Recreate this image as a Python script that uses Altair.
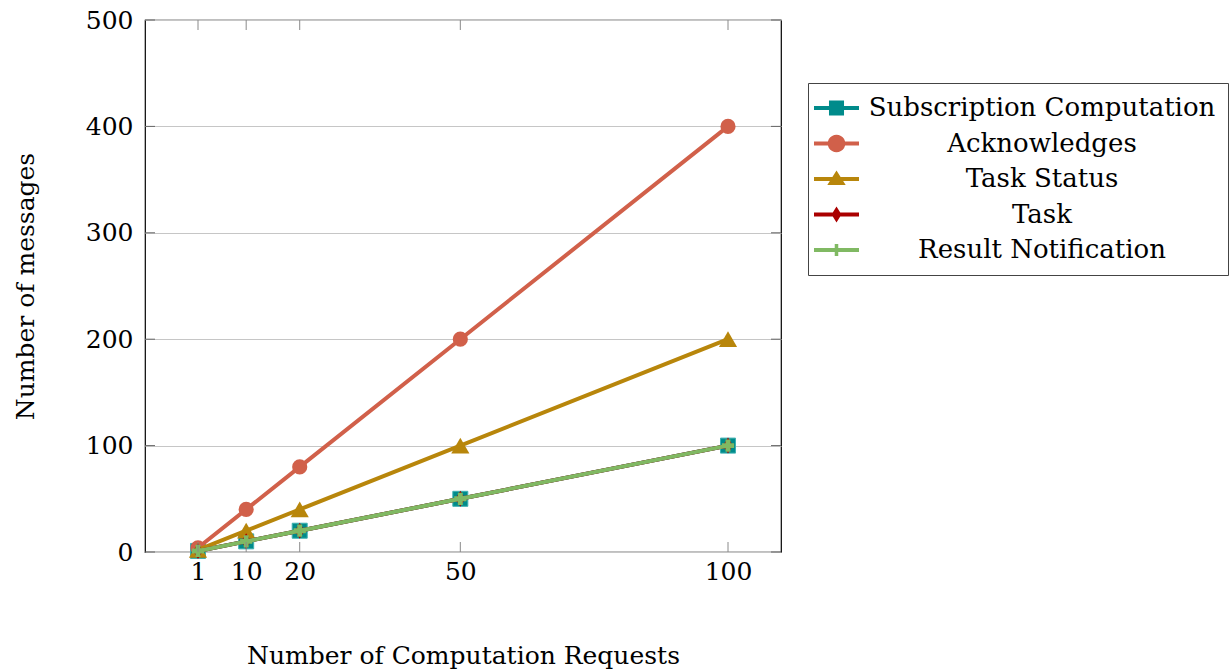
import math
import altair as alt
import pandas as pd

# Message counts per number of computation requests
requests = [1, 10, 20, 50, 100]
series_names = [
    "Subscription Computation",
    "Acknowledges",
    "Task Status",
    "Task",
    "Result Notification",
]
subscription = [1, 10, 20, 50, 100]
acknowledges = [4, 40, 80, 200, 400]
task_status = [2, 20, 40, 100, 200]
task = [1, 10, 20, 50, 100]
result_notification = [1, 10, 20, 50, 100]

colors = ["#008b8b", "#d1604a", "#b8860b", "#aa0000", "#80b963"]
y_ticks = [0, 100, 200, 300, 400, 500]

values = [subscription, acknowledges, task_status, task, result_notification]
rows = []
for name, ys in zip(series_names, values):
    for x, y in zip(requests, ys):
        rows.append({"series": name, "x": x, "y": y})
df = pd.DataFrame(rows)

W, H = 636, 532
FONT = "DejaVu Serif"
FS = 25
LEGEND_FS = 26


def poly(points):
    return "M" + "L".join(f"{x:.3f},{y:.3f}" for x, y in points) + "Z"


def circle_path(cx, cy, r, n=24):
    return poly([(cx + r * math.cos(2 * math.pi * k / n), cy + r * math.sin(2 * math.pi * k / n)) for k in range(n)])


# legend glyphs: a line segment with the marker in its middle (units of 8 px)
L0, L1, LC = -2.375, 3.25, 0.4375
line_seg = poly([(L0, -0.25), (L1, -0.25), (L1, 0.25), (L0, 0.25)])
legend_shapes = [
    line_seg + poly([(LC - 0.94, -0.94), (LC + 0.94, -0.94), (LC + 0.94, 0.94), (LC - 0.94, 0.94)]),
    line_seg + circle_path(LC, 0, 1.1),
    line_seg + poly([(LC, -1.05), (LC + 1.15, 0.75), (LC - 1.15, 0.75)]),
    line_seg + poly([(LC, -1.0), (LC + 0.62, 0), (LC, 1.0), (LC - 0.62, 0)]),
    line_seg + poly([(LC - 0.75, -0.22), (LC + 0.75, -0.22), (LC + 0.75, 0.22), (LC - 0.75, 0.22)])
    + poly([(LC - 0.22, -0.75), (LC + 0.22, -0.75), (LC + 0.22, 0.75), (LC - 0.22, 0.75)]),
]

x_enc = alt.X(
    "x:Q",
    scale=alt.Scale(domain=[-8.9, 109.9], nice=False, zero=False),
    axis=alt.Axis(
        values=requests, title="Number of Computation Requests", grid=False,
        ticks=False, tickSize=0, domain=False, labelPadding=7,
        titleX=W / 2, titleY=103, titleBaseline="middle",
    ),
)
y_enc = alt.Y(
    "y:Q",
    scale=alt.Scale(domain=[0, 500], nice=False),
    axis=alt.Axis(
        values=y_ticks, title="Number of messages", grid=True, gridColor="#c6c6c6",
        ticks=False, tickSize=0, domain=False, labelPadding=12,
        titleX=-120, titleY=H / 2, titleBaseline="middle", titleAngle=-90,
    ),
)

layers = []
marker_specs = [
    dict(shape="square", size=225, stroke="#3fb0b0", strokeWidth=1),
    dict(shape="circle", size=230),
    dict(shape="triangle-up", size=330),
    dict(shape="M0,-1L0.62,0L0,1L-0.62,0Z", size=256),
    dict(shape="cross", size=150),
]
for name, color, spec in zip(series_names, colors, marker_specs):
    sub = alt.Chart(df).transform_filter(alt.datum.series == name)
    layers.append(sub.mark_line(color=color, strokeWidth=4).encode(x=x_enc, y=y_enc))
    layers.append(sub.mark_point(filled=True, opacity=1, color=color, **spec).encode(x=x_enc, y=y_enc))

# inward tick marks on all four sides
xt = pd.DataFrame({"x": requests})
yt = pd.DataFrame({"y": y_ticks})
tick_color = "#8a8a8a"
layers.append(alt.Chart(xt).mark_rule(color=tick_color, strokeWidth=1).encode(x="x:Q", y=alt.value(H), y2=alt.value(H - 10)))
layers.append(alt.Chart(xt).mark_rule(color=tick_color, strokeWidth=1).encode(x="x:Q", y=alt.value(0), y2=alt.value(10)))
layers.append(alt.Chart(yt).mark_rule(color="#666666", strokeWidth=1).encode(y="y:Q", x=alt.value(0), x2=alt.value(10)))
layers.append(alt.Chart(yt).mark_rule(color="#666666", strokeWidth=1).encode(y="y:Q", x=alt.value(W), x2=alt.value(W - 10)))

legend = alt.Legend(
    title=None, orient="none", legendX=663, legendY=63,
    labelFont=FONT, labelFontSize=LEGEND_FS, labelColor="black", labelAlign="center",
    labelOffset=196, labelLimit=600, rowPadding=9.5, padding=12,
    strokeColor="#444444", fillColor="white", symbolStrokeWidth=0, symbolSize=256,
)
legend_layer = (
    alt.Chart(df)
    .transform_filter("false")
    .mark_point(filled=True, size=256, opacity=1)
    .encode(
        x=x_enc, y=y_enc,
        color=alt.Color("series:N", scale=alt.Scale(domain=series_names, range=colors), legend=legend),
        shape=alt.Shape("series:N", scale=alt.Scale(domain=series_names, range=legend_shapes), legend=legend),
    )
)
layers.append(legend_layer)

chart = (
    alt.layer(*layers)
    .properties(
        width=W, height=H,
        autosize=alt.AutoSizeParams(type="none"),
        padding={"left": 145, "top": 20, "right": 448, "bottom": 119},
    )
    .configure(background="white")
    .configure_view(stroke="black", strokeWidth=1.2)
    .configure_axis(
        labelFont=FONT, labelFontSize=FS, labelColor="black",
        titleFont=FONT, titleFontSize=FS, titleColor="black", titleFontWeight="normal",
    )
)

chart.save("out.html", embed_options={"renderer": "svg", "actions": False})
